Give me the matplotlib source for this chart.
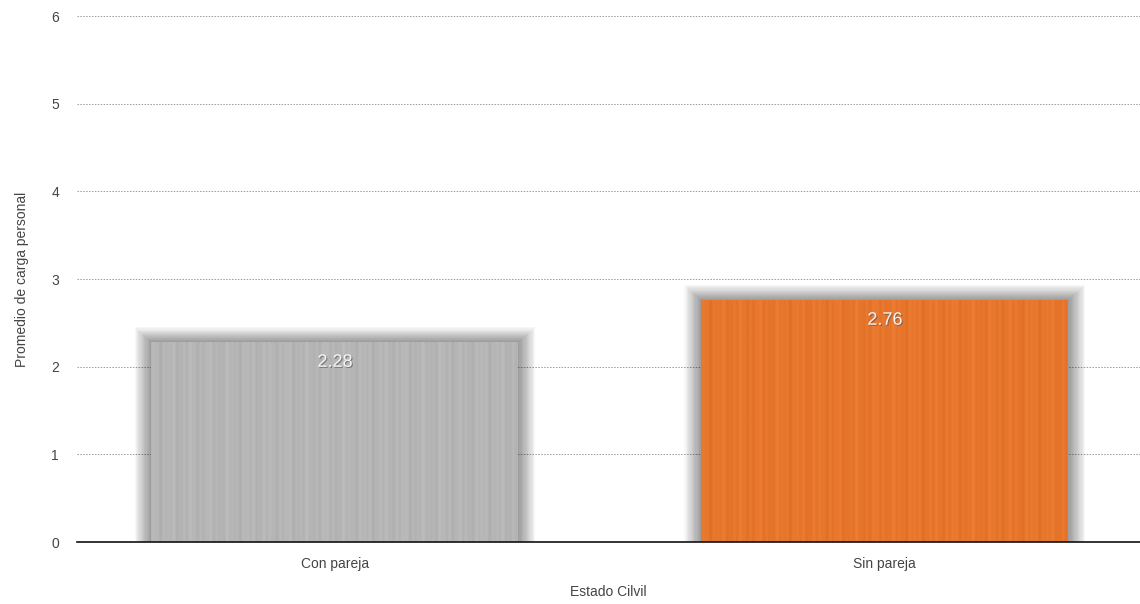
import numpy as np
import matplotlib.pyplot as plt
import matplotlib.patheffects as pe
from matplotlib.patches import Rectangle

# Datos
categorias = ['Con pareja', 'Sin pareja']
promedios = [2.28, 2.76]
colores = ['#b9b9b9', '#ee7628']
y_ticks = [0, 1, 2, 3, 4, 5, 6]

plt.rcParams['font.family'] = ['Liberation Sans', 'DejaVu Sans']

fig = plt.figure(figsize=(11.4, 6.04), dpi=100)
ax = fig.add_axes([0.0675, 0.1026, 0.9325, 0.8709])

x = np.arange(len(categorias))
ancho = 0.667

# sombra difusa detras de las barras
for xi, v in zip(x, promedios):
    for k in range(14):
        dx = 0.0022 * (k + 1)
        dy = 0.012 * (k + 1)
        sombra = Rectangle((xi - ancho / 2 - dx, -0.02), ancho + 2 * dx, v + dy + 0.02,
                           facecolor='black', edgecolor='none', alpha=0.03, zorder=1)
        ax.add_patch(sombra)

barras = ax.bar(x, promedios, width=ancho, color=colores, zorder=3)

# textura vertical suave
for b, c in zip(barras, colores):
    x0, w, h = b.get_x(), b.get_width(), b.get_height()
    cols = np.linspace(0, 60 * np.pi, 400)
    tex = 0.5 + 0.25 * np.sin(cols) * np.sin(cols * 0.37) + 0.15 * np.sin(cols * 2.3)
    img = ax.imshow(tex[np.newaxis, :], extent=[x0, x0 + w, 0, h], aspect='auto',
                    cmap='gray', alpha=0.06, zorder=4)
    img.set_clip_path(b)

for xi, v in zip(x, promedios):
    ax.text(xi, v - 0.23, f'{v:.2f}', ha='center', va='center', fontsize=13,
            color='#f4f4f4', zorder=5,
            path_effects=[pe.withSimplePatchShadow(offset=(0.8, -0.8), shadow_rgbFace='#555555', alpha=0.6)])

ax.set_xlim(-0.469, 1.464)
ax.set_ylim(0, 6)
ax.set_yticks(y_ticks)
ax.set_xticks(x)
ax.set_xticklabels(categorias)
ax.tick_params(axis='both', length=0, labelsize=10, colors='#444444')
ax.tick_params(axis='y', pad=13)
ax.tick_params(axis='x', pad=11)

ax.grid(axis='y', linestyle=(0, (1.5, 1.5)), color='#9a9a9a', linewidth=0.7, zorder=0)
ax.set_axisbelow(True)
for s in ['top', 'right', 'left']:
    ax.spines[s].set_visible(False)
ax.spines['bottom'].set_color('#111111')
ax.spines['bottom'].set_linewidth(1.2)
ax.spines['bottom'].set_zorder(6)

ax.set_ylabel('Promedio de carga personal', fontsize=10, color='#444444', labelpad=16)
ax.set_xlabel('Estado Cilvil', fontsize=10, color='#444444', labelpad=10)

plt.savefig('out.png', dpi=100)
